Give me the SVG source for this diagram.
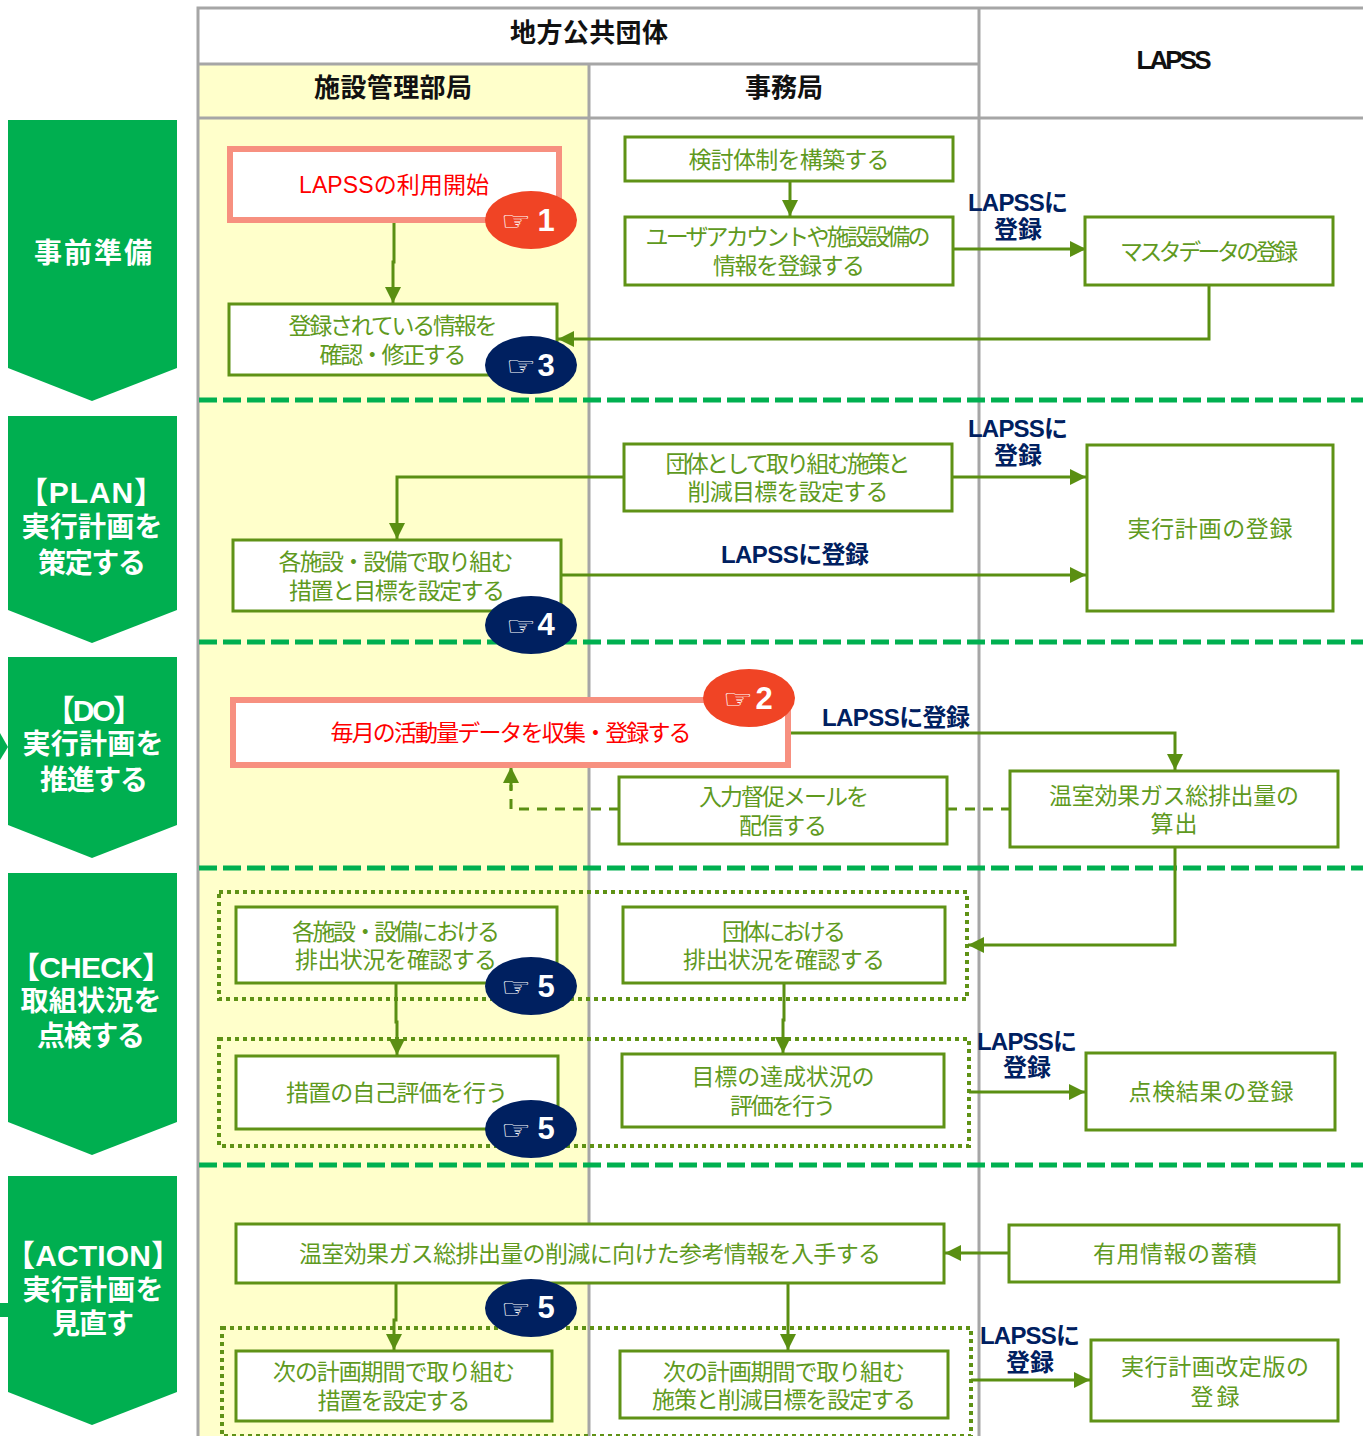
<svg xmlns="http://www.w3.org/2000/svg" width="1363" height="1436" viewBox="0 0 1363 1436">
<defs>
<style>
text{font-family:"Liberation Sans","Noto Sans CJK JP",sans-serif;text-anchor:middle}
.n{fill:#fff;stroke:#5F9216;stroke-width:3}
.r{fill:#fff;stroke:#F79080;stroke-width:6}
.t{font-size:23px;fill:#5F9A1E}
.rt{font-size:23px;fill:#FF0000}
.l{font-size:24px;font-weight:700;fill:#002060}
.h{font-size:26px;font-weight:700;fill:#111}
.p{fill:#00AF50}
.pt{font-size:28px;font-weight:700;fill:#fff}
.g{fill:none;stroke:#A6A6A6;stroke-width:3}
.d{fill:none;stroke:#00B050;stroke-width:5;stroke-dasharray:18 6}
.o{fill:none;stroke:#5F9216;stroke-width:4;stroke-dasharray:4 4}
.c{fill:none;stroke:#5A8F12;stroke-width:3;marker-end:url(#a)}
.cd{fill:none;stroke:#5A8F12;stroke-width:3;stroke-dasharray:10 8}
.hand{font-family:"DejaVu Sans",sans-serif;font-size:26px;fill:#fff}
.num{font-size:31px;font-weight:700;fill:#fff}
</style>
<marker id="a" markerUnits="userSpaceOnUse" markerWidth="16" markerHeight="18" refX="16" refY="8" orient="auto"><path d="M0 0L16 8L0 16Z" fill="#5A8F12"/></marker>
</defs>
<rect width="1363" height="1436" fill="#fff"/>
<g id="lanes">
<rect x="199" y="65" width="390" height="1371" fill="#FFFFCB"/>
<path class="g" d="M198 1436V8H1363M198 64H979M198 118H1363M589 64V1436M979 8V1436"/>
<text class="h" x="589" y="42" textLength="158">地方公共団体</text>
<text class="h" x="393" y="97" textLength="158">施設管理部局</text>
<text class="h" x="784" y="97" textLength="78">事務局</text>
<text class="h" x="1174" y="69" textLength="75">LAPSS</text>
<path class="d" d="M199 400H1363M199 642H1363M199 868H1363M199 1165H1363"/>
</g>
<g id="phases">
<path class="p" d="M0 733L8 747L0 760Z"/>
<rect class="p" x="0" y="1303" width="8" height="14"/>
<g id="phase-prep"><path class="p" d="M8 120H177V368L92 401L8 368Z"/><text class="pt" x="93" y="263" textLength="118">事前準備</text></g>
<g id="phase-plan"><path class="p" d="M8 416H177V610L92 643L8 610Z"/><text class="pt" style="font-size:30px" x="91" y="503" textLength="146">【PLAN】</text><text class="pt" x="92" y="537" textLength="141">実行計画を</text><text class="pt" x="92" y="573" textLength="108">策定する</text></g>
<g id="phase-do"><path class="p" d="M8 657H177V825L92 858L8 825Z"/><text class="pt" style="font-size:30px" x="94" y="721" textLength="98">【DO】</text><text class="pt" x="93" y="754" textLength="141">実行計画を</text><text class="pt" x="94" y="790" textLength="108">推進する</text></g>
<g id="phase-check"><path class="p" d="M8 873H177V1122L92 1155L8 1122Z"/><text class="pt" style="font-size:30px" x="91" y="978" textLength="162">【CHECK】</text><text class="pt" x="91" y="1011" textLength="141">取組状況を</text><text class="pt" x="91" y="1046" textLength="108">点検する</text></g>
<g id="phase-action"><path class="p" d="M8 1176H177V1392L92 1425L8 1392Z"/><text class="pt" style="font-size:30px" x="93" y="1266" textLength="176">【ACTION】</text><text class="pt" x="93" y="1300" textLength="141">実行計画を</text><text class="pt" x="93" y="1334" textLength="82">見直す</text></g>
</g>
<g id="groups">
<rect class="o" x="219" y="892" width="748" height="107"/>
<rect class="o" x="219" y="1039" width="750" height="107"/>
<rect class="o" x="222" y="1328" width="749" height="108"/>
</g>
<g id="connectors">
<path class="c" d="M394 220V262H393V303"/>
<path class="c" d="M790 181V216"/>
<path class="c" d="M953 249H1086"/>
<path class="c" d="M1209 285V339H558"/>
<path class="c" d="M624 477H397V539"/>
<path class="c" d="M952 477H1086"/>
<path class="c" d="M561 575H1086"/>
<path class="c" d="M789 733H1175V770"/>
<path class="cd" d="M619 809H511V785"/>
<path class="c" d="M511 790V767" style="stroke-dasharray:none"/>
<path class="cd" d="M947 809H1010"/>
<path class="c" d="M1175 847V945H968"/>
<path class="c" d="M396 983V1022H397V1055"/>
<path class="c" d="M784 983V1020H783V1053"/>
<path class="c" d="M969 1092H1085"/>
<path class="c" d="M1009 1253H945"/>
<path class="c" d="M396 1283V1320H394V1350"/>
<path class="c" d="M788 1283V1350"/>
<path class="c" d="M971 1380H1090"/>
</g>
<g id="connector-labels">
<text class="l" x="1018" y="211" textLength="100">LAPSSに</text><text class="l" x="1018" y="238" textLength="48">登録</text>
<text class="l" x="1018" y="437" textLength="100">LAPSSに</text><text class="l" x="1018" y="464" textLength="48">登録</text>
<text class="l" x="795" y="563" textLength="148">LAPSSに登録</text>
<text class="l" x="896" y="726" textLength="148">LAPSSに登録</text>
<text class="l" x="1027" y="1050" textLength="100">LAPSSに</text><text class="l" x="1027" y="1076" textLength="48">登録</text>
<text class="l" x="1030" y="1344" textLength="100">LAPSSに</text><text class="l" x="1030" y="1371" textLength="48">登録</text>
</g>
<g id="n-start"><rect class="r" x="230" y="149" width="329" height="71"/><text class="rt" x="394" y="193" textLength="190">LAPSSの利用開始</text></g>
<g id="n-confirm"><rect class="n" x="229" y="304" width="328" height="71"/><text class="t" x="393" y="334" textLength="209">登録されている情報を</text><text class="t" x="393" y="363" textLength="147">確認・修正する</text></g>
<g id="n-team"><rect class="n" x="625" y="137" width="328" height="44"/><text class="t" x="789" y="168" textLength="201">検討体制を構築する</text></g>
<g id="n-account"><rect class="n" x="625" y="217" width="328" height="68"/><text class="t" x="788" y="245" textLength="285">ユーザアカウントや施設設備の</text><text class="t" x="789" y="274" textLength="152">情報を登録する</text></g>
<g id="n-master"><rect class="n" x="1085" y="217" width="248" height="68"/><text class="t" x="1209" y="260" textLength="178">マスタデータの登録</text></g>
<g id="n-policy"><rect class="n" x="624" y="444" width="328" height="67"/><text class="t" x="788" y="472" textLength="245">団体として取り組む施策と</text><text class="t" x="788" y="500" textLength="201">削減目標を設定する</text></g>
<g id="n-plan"><rect class="n" x="1087" y="445" width="246" height="166"/><text class="t" x="1210" y="537" textLength="165">実行計画の登録</text></g>
<g id="n-measures"><rect class="n" x="233" y="540" width="328" height="71"/><text class="t" x="396" y="570" textLength="235">各施設・設備で取り組む</text><text class="t" x="397" y="599" textLength="216">措置と目標を設定する</text></g>
<g id="n-monthly"><rect class="r" x="233" y="700" width="555" height="65"/><text class="rt" x="511" y="741" textLength="361">毎月の活動量データを収集・登録する</text></g>
<g id="n-mail"><rect class="n" x="619" y="777" width="328" height="67"/><text class="t" x="784" y="805" textLength="170">入力督促メールを</text><text class="t" x="783" y="834" textLength="88">配信する</text></g>
<g id="n-calc"><rect class="n" x="1010" y="771" width="328" height="76"/><text class="t" x="1174" y="804" textLength="250">温室効果ガス総排出量の</text><text class="t" x="1174" y="832" textLength="47">算出</text></g>
<g id="n-check1"><rect class="n" x="236" y="907" width="321" height="76"/><text class="t" x="396" y="940" textLength="208">各施設・設備における</text><text class="t" x="396" y="968" textLength="202">排出状況を確認する</text></g>
<g id="n-check2"><rect class="n" x="623" y="907" width="322" height="76"/><text class="t" x="784" y="940" textLength="124">団体における</text><text class="t" x="784" y="968" textLength="202">排出状況を確認する</text></g>
<g id="n-self"><rect class="n" x="236" y="1056" width="322" height="73"/><text class="t" x="397" y="1101" textLength="222">措置の自己評価を行う</text></g>
<g id="n-goal"><rect class="n" x="622" y="1054" width="322" height="73"/><text class="t" x="783" y="1085" textLength="183">目標の達成状況の</text><text class="t" x="783" y="1114" textLength="106">評価を行う</text></g>
<g id="n-result"><rect class="n" x="1086" y="1053" width="249" height="77"/><text class="t" x="1211" y="1100" textLength="165">点検結果の登録</text></g>
<g id="n-info"><rect class="n" x="236" y="1224" width="708" height="59"/><text class="t" x="590" y="1262" textLength="582">温室効果ガス総排出量の削減に向けた参考情報を入手する</text></g>
<g id="n-store"><rect class="n" x="1009" y="1225" width="330" height="57"/><text class="t" x="1175" y="1262" textLength="164">有用情報の蓄積</text></g>
<g id="n-next1"><rect class="n" x="236" y="1351" width="316" height="70"/><text class="t" x="394" y="1380" textLength="242">次の計画期間で取り組む</text><text class="t" x="394" y="1409" textLength="153">措置を設定する</text></g>
<g id="n-next2"><rect class="n" x="620" y="1351" width="328" height="67"/><text class="t" x="784" y="1380" textLength="242">次の計画期間で取り組む</text><text class="t" x="784" y="1408" textLength="264">施策と削減目標を設定する</text></g>
<g id="n-revise"><rect class="n" x="1091" y="1340" width="247" height="81"/><text class="t" x="1215" y="1375" textLength="188">実行計画改定版の</text><text class="t" x="1215" y="1405" textLength="49">登録</text></g>
<g id="badges">
<g id="b1"><ellipse cx="531" cy="220" rx="46" ry="29" fill="#F04425"/><text class="hand" x="516" y="230" textLength="30" lengthAdjust="spacingAndGlyphs">☞</text><text class="num" x="546" y="231">1</text></g>
<g id="b3"><ellipse cx="531" cy="365" rx="46" ry="29" fill="#002060"/><text class="hand" x="521" y="375" textLength="30" lengthAdjust="spacingAndGlyphs">☞</text><text class="num" x="546" y="376">3</text></g>
<g id="b4"><ellipse cx="531" cy="625" rx="46" ry="29" fill="#002060"/><text class="hand" x="521" y="635" textLength="30" lengthAdjust="spacingAndGlyphs">☞</text><text class="num" x="546" y="635">4</text></g>
<g id="b2"><ellipse cx="749" cy="698" rx="46" ry="29" fill="#F04425"/><text class="hand" x="738" y="708" textLength="30" lengthAdjust="spacingAndGlyphs">☞</text><text class="num" x="764" y="709">2</text></g>
<g id="b5a"><ellipse cx="531" cy="986" rx="46" ry="29" fill="#002060"/><text class="hand" x="516" y="996" textLength="30" lengthAdjust="spacingAndGlyphs">☞</text><text class="num" x="546" y="997">5</text></g>
<g id="b5b"><ellipse cx="531" cy="1129" rx="46" ry="29" fill="#002060"/><text class="hand" x="516" y="1139" textLength="30" lengthAdjust="spacingAndGlyphs">☞</text><text class="num" x="546" y="1139">5</text></g>
<g id="b5c"><ellipse cx="531" cy="1308" rx="46" ry="29" fill="#002060"/><text class="hand" x="516" y="1318" textLength="30" lengthAdjust="spacingAndGlyphs">☞</text><text class="num" x="546" y="1318">5</text></g>
</g>
</svg>
